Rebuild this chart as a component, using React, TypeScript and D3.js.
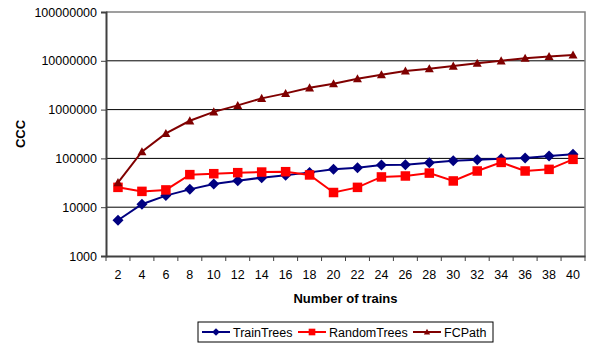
import { useRef, useEffect } from 'react';
import * as d3 from 'd3';

const trains = [2, 4, 6, 8, 10, 12, 14, 16, 18, 20, 22, 24, 26, 28, 30, 32, 34, 36, 38, 40];
const trainTrees = [5400, 11500, 17300, 23200, 29900, 35000, 40300, 44900, 51700, 59600, 64600, 73300, 74300, 81600, 89800, 94000, 98600, 102000, 112000, 121000];
const randomTrees = [25500, 21100, 22600, 46500, 48600, 51000, 52500, 53400, 45800, 20000, 25500, 41700, 43600, 50000, 34500, 55200, 82800, 55200, 59600, 95600];
const fcPath = [32000, 137000, 325000, 590000, 900000, 1220000, 1700000, 2150000, 2800000, 3400000, 4300000, 5200000, 6200000, 6900000, 7800000, 8900000, 10000000, 11300000, 12300000, 13200000];
const yTicks = [1000, 10000, 100000, 1000000, 10000000, 100000000];

const W = 592;
const H = 347;
const plot = { left: 106, right: 585, top: 12, bottom: 256 };
const font = "'Liberation Sans', Arial, sans-serif";

const seriesList = [
    { name: 'TrainTrees', values: trainTrees, color: '#000080', marker: 'diamond' },
    { name: 'RandomTrees', values: randomTrees, color: '#FF0000', marker: 'square' },
    { name: 'FCPath', values: fcPath, color: '#800000', marker: 'triangle' },
];

const drawMarker = (g: any, kind: string, x: number, y: number, color: string, scale = 1) => {
    if (kind === 'diamond') {
        const r = 5.5 * scale;
        g.append('path')
            .attr('d', `M${x},${y - r}L${x + r},${y}L${x},${y + r}L${x - r},${y}Z`)
            .attr('fill', color);
    } else if (kind === 'square') {
        const s = 9.5 * scale;
        g.append('rect')
            .attr('x', x - s / 2).attr('y', y - s / 2)
            .attr('width', s).attr('height', s)
            .attr('fill', color);
    } else {
        const r = 4.5 * scale;
        g.append('path')
            .attr('d', `M${x},${y - r}L${x + r},${y + r * 0.8}L${x - r},${y + r * 0.8}Z`)
            .attr('fill', color);
    }
};

const App = () => {
    const ref = useRef<SVGSVGElement>(null);

    useEffect(() => {
        if (!ref.current) return;
        const svg = d3.select(ref.current);
        svg.selectAll('*').remove();

        const x = d3.scaleBand<number>()
            .domain(trains)
            .range([plot.left, plot.right]);

        const y = d3.scaleLog()
            .domain([1000, 100000000])
            .range([plot.bottom, plot.top]);

        svg.append('rect')
            .attr('width', W).attr('height', H)
            .attr('fill', 'white');

        // gridlines
        svg.append('g')
            .selectAll('line')
            .data(yTicks.slice(1, -1))
            .join('line')
            .attr('x1', plot.left).attr('x2', plot.right)
            .attr('y1', d => y(d)).attr('y2', d => y(d))
            .attr('stroke', '#000').attr('stroke-width', 1);

        // plot border (top / right)
        svg.append('path')
            .attr('d', `M${plot.left},${plot.top}H${plot.right}V${plot.bottom}`)
            .attr('fill', 'none')
            .attr('stroke', '#808080')
            .attr('stroke-width', 1.5);

        // y axis
        const yAxis = d3.axisLeft(y)
            .tickValues(yTicks)
            .tickFormat(d => String(d))
            .tickSize(5)
            .tickPadding(4);
        const yg = svg.append('g')
            .attr('transform', `translate(${plot.left},0)`)
            .call(yAxis);
        yg.select('.domain').attr('stroke', '#404040').attr('stroke-width', 2);
        yg.selectAll('.tick line').attr('stroke', '#404040');
        yg.selectAll('text')
            .attr('fill', '#000')
            .style('font-family', font)
            .style('font-size', '12.5px');

        // x axis
        const xAxis = d3.axisBottom(x).tickSize(0).tickPadding(14);
        const xg = svg.append('g')
            .attr('transform', `translate(0,${plot.bottom})`)
            .call(xAxis);
        xg.select('.domain').attr('stroke', '#404040').attr('stroke-width', 2);
        xg.selectAll('text')
            .attr('fill', '#000')
            .style('font-family', font)
            .style('font-size', '12.5px');
        xg.append('g')
            .selectAll('line')
            .data(trains.concat([0]))
            .join('line')
            .attr('x1', (d, i) => plot.left + i * x.bandwidth())
            .attr('x2', (d, i) => plot.left + i * x.bandwidth())
            .attr('y1', 0).attr('y2', 5)
            .attr('stroke', '#404040');

        // series
        const line = d3.line<number>()
            .x((d, i) => (x(trains[i]) as number) + x.bandwidth() / 2)
            .y(d => y(d));

        seriesList.forEach(s => {
            const g = svg.append('g');
            g.append('path')
                .datum(s.values)
                .attr('d', line)
                .attr('fill', 'none')
                .attr('stroke', s.color)
                .attr('stroke-width', 2);
            s.values.forEach((v, i) => {
                drawMarker(g, s.marker, (x(trains[i]) as number) + x.bandwidth() / 2, y(v), s.color);
            });
        });

        // axis titles
        svg.append('text')
            .attr('x', (plot.left + plot.right) / 2)
            .attr('y', 303)
            .attr('text-anchor', 'middle')
            .style('font-family', font)
            .style('font-size', '13px')
            .style('font-weight', 'bold')
            .text('Number of trains');

        svg.append('text')
            .attr('transform', `translate(25,${(plot.top + plot.bottom) / 2}) rotate(-90)`)
            .attr('text-anchor', 'middle')
            .style('font-family', font)
            .style('font-size', '13px')
            .style('font-weight', 'bold')
            .text('CCC');

        // legend
        const legend = svg.append('g');
        legend.append('rect')
            .attr('x', 198).attr('y', 322)
            .attr('width', 295).attr('height', 20)
            .attr('fill', 'white')
            .attr('stroke', '#000')
            .attr('stroke-width', 1);
        const legendX = [202, 298, 413];
        seriesList.forEach((s, i) => {
            const lx = legendX[i];
            legend.append('line')
                .attr('x1', lx).attr('x2', lx + 28)
                .attr('y1', 332).attr('y2', 332)
                .attr('stroke', s.color).attr('stroke-width', 2);
            drawMarker(legend, s.marker, lx + 14, 332, s.color, 0.7);
            legend.append('text')
                .attr('x', lx + 31).attr('y', 336.5)
                .style('font-family', font)
                .style('font-size', '12.5px')
                .text(s.name);
        });
    }, []);

    return (
        <svg
            ref={ref}
            width={W}
            height={H}
            style={{ position: 'absolute', left: 0, top: 0 }}
        ></svg>
    );
};

export default App;
